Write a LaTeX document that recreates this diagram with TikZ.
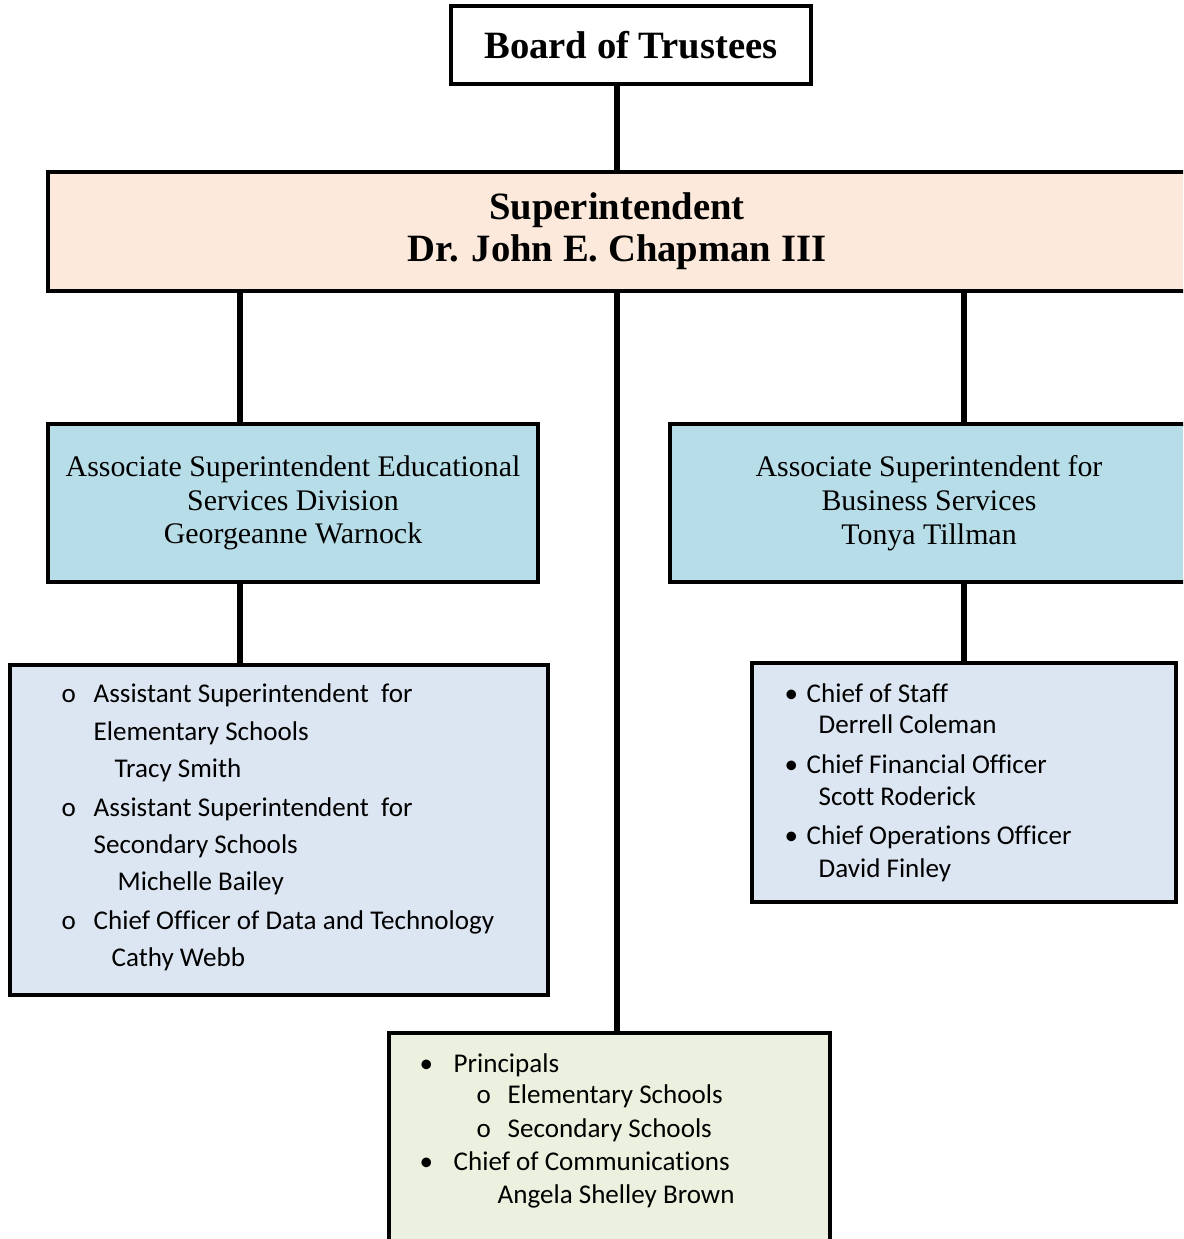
\documentclass[tikz,border=0pt]{standalone}
\usepackage{fontspec}
\setmainfont{Liberation Serif}
\newfontfamily\listfont[Ligatures=NoCommon]{Carlito}
\definecolor{SupPeach}{HTML}{FCE9DB}
\definecolor{AssocBlue}{HTML}{B7DDE8}
\definecolor{ListBlue}{HTML}{DCE6F2}
\definecolor{ListGreen}{HTML}{EBF1DE}

\begin{document}
\begin{tikzpicture}[
        box/.style={draw=black, line width=1.1pt, inner sep=0pt, align=center},
        head/.style={box, font=\fontsize{11}{12}\selectfont\bfseries},
        assoc/.style={box, fill=AssocBlue, minimum height=1.58cm, font=\fontsize{8.5}{9.6}\selectfont},
        list/.style={box, fill=ListBlue},
        item/.style={anchor=base west, inner sep=0pt, font=\listfont\fontsize{7.7}{9}\selectfont},
        link/.style={line width=1.9pt, black}
    ]
        \clip (0,0) rectangle (11.83,-12.39);
        \fill[white] (0,0) rectangle (11.83,-12.39);
        \node[head, minimum width=3.6cm, minimum height=0.78cm] (board) at (6.31,-0.45) {Board of Trustees};
        \node[head, fill=SupPeach, minimum width=11.38cm, minimum height=1.19cm] (super) at (6.17,-2.315) {Superintendent\\Dr. John E. Chapman III};
        \node[assoc, minimum width=4.9cm]  (assocL) at (2.93,-5.03) {Associate Superintendent Educational\\Services Division\\Georgeanne Warnock};
        \node[assoc, minimum width=5.18cm] (assocR) at (9.29,-5.03) {Associate Superintendent for\\Business Services\\Tonya Tillman};
        \node[list, minimum width=5.38cm, minimum height=3.30cm] (listL) at (2.79,-8.30) {};
        \node[list, minimum width=4.24cm, minimum height=2.39cm] (listR) at (9.64,-7.825) {};
        \node[list, fill=ListGreen, minimum width=4.41cm, minimum height=2.17cm] (listC) at (6.095,-11.415) {};
        \coordinate (aL) at (2.40,0);
        \draw[link] (super.north |- board.south) -- (super.north);
        \draw[link] (aL |- super.south) -- (aL |- assocL.north);
        \draw[link] (aL |- assocL.south) -- (aL |- listL.north);
        \draw[link] (listR.north |- super.south) -- (listR.north |- assocR.north);
        \draw[link] (listR.north |- assocR.south) -- (listR.north);
        \draw[link] (super.south) -- (super.south |- listC.north);
        \foreach \x/\y/\t [count=\i] in {0.61/7.02/o, 0.93/7.02/Assistant Superintendent\ \ for, 0.93/7.40/Elementary Schools, 1.14/7.77/Tracy Smith,
                0.61/8.16/o, 0.93/8.16/Assistant Superintendent\ \ for, 0.93/8.53/Secondary Schools, 1.17/8.90/Michelle Bailey,
                0.61/9.29/o, 0.93/9.29/Chief Officer of Data and Technology, 1.11/9.66/Cathy Webb}
            \node[item] (edu\i) at (\x,-\y) {\t};
        \foreach \x/\y/\t [count=\i] in {7.84/7.02/•, 8.06/7.02/Chief of Staff, 8.18/7.33/Derrell Coleman,
                7.84/7.73/•, 8.06/7.73/Chief Financial Officer, 8.18/8.05/Scott Roderick,
                7.84/8.44/•, 8.06/8.44/Chief Operations Officer, 8.18/8.77/David Finley}
            \node[item] (bus\i) at (\x,-\y) {\t};
        \foreach \x/\y/\t [count=\i] in {4.19/10.72/•, 4.53/10.72/Principals, 4.76/11.03/o, 5.07/11.03/Elementary Schools,
                4.76/11.37/o, 5.07/11.37/Secondary Schools, 4.19/11.70/•, 4.53/11.70/Chief of Communications, 4.97/12.03/Angela Shelley Brown}
            \node[item] (sch\i) at (\x,-\y) {\t};
    \end{tikzpicture}
\end{document}
